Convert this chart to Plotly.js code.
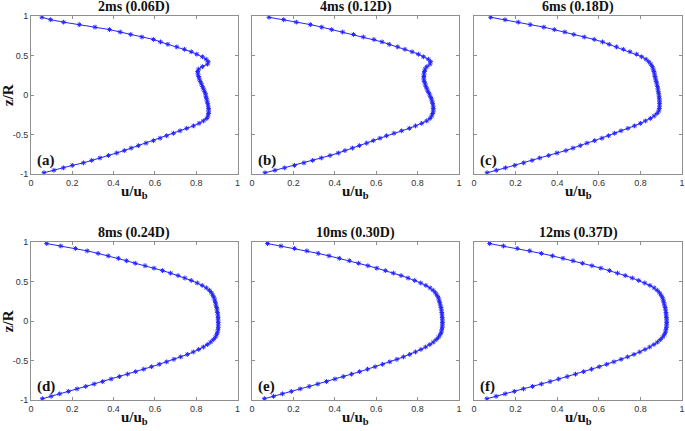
<!DOCTYPE html>
<html>
<head>
<meta charset="utf-8">
<script src="https://cdn.plot.ly/plotly-3.0.1.min.js"></script>
<style>html,body{margin:0;padding:0;background:#fff;}#chart{width:685px;height:431px;}</style>
</head>
<body>
<div id="chart"></div>
<script>
// Radial positions z/R (shared by all panels)
const zR = [0.984, 0.953, 0.922, 0.891, 0.859, 0.828, 0.797, 0.766, 0.734, 0.703, 0.672, 0.641, 0.609, 0.578, 0.547, 0.516,
  0.484, 0.453, 0.422, 0.391, 0.359, 0.328, 0.297, 0.266, 0.234, 0.203, 0.172, 0.141, 0.109, 0.078, 0.047, 0.016,
  -0.016, -0.047, -0.078, -0.109, -0.141, -0.172, -0.203, -0.234, -0.266, -0.297, -0.328, -0.359, -0.391, -0.422, -0.453, -0.484,
  -0.516, -0.547, -0.578, -0.609, -0.641, -0.672, -0.703, -0.734, -0.766, -0.797, -0.828, -0.859, -0.891, -0.922, -0.953, -0.984];

// u/u_b profiles
const u2ms = [0.053, 0.095, 0.158, 0.234, 0.310, 0.380, 0.432, 0.483, 0.537, 0.593, 0.627, 0.663, 0.706, 0.743, 0.776, 0.803,
  0.830, 0.848, 0.858, 0.855, 0.830, 0.812, 0.807, 0.808, 0.812, 0.815, 0.820, 0.825, 0.830, 0.835, 0.840, 0.845,
  0.847, 0.850, 0.853, 0.856, 0.858, 0.860, 0.860, 0.860, 0.857, 0.851, 0.835, 0.814, 0.787, 0.754, 0.722, 0.690,
  0.657, 0.625, 0.593, 0.557, 0.520, 0.485, 0.452, 0.415, 0.375, 0.334, 0.294, 0.254, 0.200, 0.157, 0.111, 0.063];
const u4ms = [0.082, 0.153, 0.214, 0.282, 0.337, 0.385, 0.438, 0.490, 0.538, 0.589, 0.628, 0.663, 0.704, 0.739, 0.773, 0.804,
  0.828, 0.852, 0.863, 0.860, 0.845, 0.836, 0.833, 0.831, 0.830, 0.830, 0.832, 0.836, 0.840, 0.845, 0.850, 0.856,
  0.861, 0.866, 0.870, 0.873, 0.875, 0.876, 0.876, 0.873, 0.868, 0.860, 0.844, 0.820, 0.790, 0.760, 0.723, 0.686,
  0.650, 0.618, 0.586, 0.554, 0.519, 0.485, 0.449, 0.417, 0.377, 0.335, 0.293, 0.251, 0.205, 0.158, 0.111, 0.063];
const u6ms = [0.080, 0.149, 0.213, 0.270, 0.336, 0.386, 0.437, 0.480, 0.530, 0.578, 0.618, 0.650, 0.685, 0.718, 0.750, 0.782,
  0.806, 0.827, 0.840, 0.850, 0.857, 0.862, 0.865, 0.868, 0.870, 0.873, 0.876, 0.879, 0.882, 0.884, 0.886, 0.888,
  0.890, 0.891, 0.892, 0.892, 0.892, 0.891, 0.888, 0.880, 0.866, 0.848, 0.824, 0.800, 0.772, 0.740, 0.707, 0.676,
  0.647, 0.615, 0.580, 0.543, 0.511, 0.476, 0.442, 0.399, 0.359, 0.316, 0.279, 0.239, 0.196, 0.151, 0.107, 0.063];
const u8ms = [0.076, 0.144, 0.215, 0.272, 0.325, 0.374, 0.423, 0.462, 0.505, 0.552, 0.596, 0.637, 0.676, 0.712, 0.745, 0.776,
  0.805, 0.829, 0.849, 0.864, 0.874, 0.881, 0.886, 0.890, 0.893, 0.896, 0.899, 0.901, 0.903, 0.905, 0.906, 0.906,
  0.907, 0.907, 0.907, 0.906, 0.903, 0.899, 0.893, 0.883, 0.870, 0.854, 0.835, 0.812, 0.786, 0.757, 0.725, 0.692,
  0.657, 0.621, 0.584, 0.546, 0.507, 0.468, 0.428, 0.388, 0.347, 0.306, 0.265, 0.223, 0.181, 0.139, 0.097, 0.055];
const u10ms = [0.075, 0.140, 0.205, 0.265, 0.320, 0.372, 0.422, 0.470, 0.515, 0.560, 0.603, 0.644, 0.683, 0.720, 0.754, 0.786,
  0.815, 0.840, 0.860, 0.875, 0.886, 0.894, 0.900, 0.904, 0.907, 0.910, 0.913, 0.915, 0.917, 0.918, 0.919, 0.920,
  0.920, 0.920, 0.919, 0.917, 0.914, 0.909, 0.901, 0.890, 0.876, 0.859, 0.839, 0.816, 0.790, 0.762, 0.732, 0.700,
  0.666, 0.631, 0.595, 0.558, 0.520, 0.481, 0.441, 0.401, 0.360, 0.318, 0.276, 0.233, 0.190, 0.147, 0.104, 0.060];
const u12ms = [0.075, 0.142, 0.208, 0.268, 0.324, 0.377, 0.428, 0.476, 0.522, 0.567, 0.610, 0.651, 0.690, 0.727, 0.761, 0.792,
  0.821, 0.846, 0.866, 0.881, 0.892, 0.900, 0.906, 0.910, 0.913, 0.916, 0.919, 0.921, 0.923, 0.924, 0.925, 0.926,
  0.926, 0.926, 0.925, 0.923, 0.920, 0.915, 0.907, 0.896, 0.882, 0.865, 0.845, 0.822, 0.797, 0.769, 0.739, 0.707,
  0.673, 0.638, 0.602, 0.565, 0.527, 0.488, 0.448, 0.407, 0.366, 0.324, 0.281, 0.238, 0.194, 0.150, 0.106, 0.062];

const panelTitles = ["2ms (0.06D)", "4ms (0.12D)", "6ms (0.18D)", "8ms (0.24D)", "10ms (0.30D)", "12ms (0.37D)"];
const panelLabels = ["(a)", "(b)", "(c)", "(d)", "(e)", "(f)"];
const xTicks = [0, 0.2, 0.4, 0.6, 0.8, 1];
const xTickText = ["0", "0.2", "0.4", "0.6", "0.8", "1"];
const yTicks = [-1, -0.5, 0, 0.5, 1];
const yTickText = ["-1", "-0.5", "0", "0.5", "1"];
const xTitle = "u/u<sub>b</sub>";
const yTitle = "z/R";

const profiles = [u2ms, u4ms, u6ms, u8ms, u10ms, u12ms];

const W = 685, H = 431;
const colPx = [[31, 237.5], [252, 459], [474, 682]];
const rowPx = [[16, 174], [242.3, 400]];

const serif = "'Liberation Serif', 'Times New Roman', Times, serif";
const sans = "'Liberation Sans', Arial, Helvetica, sans-serif";
const axisCol = "#8f8f8f";
const blue = "#2424ff";
const traces = [];
const layout = {
  width: W, height: H,
  margin: {l: 0, r: 0, t: 0, b: 0},
  paper_bgcolor: "#fff", plot_bgcolor: "#fff",
  showlegend: false,
  font: {family: sans},
  annotations: []
};

profiles.forEach((u, i) => {
  const r = Math.floor(i / 3), c = i % 3;
  const n = i + 1;
  const xa = n === 1 ? "xaxis" : "xaxis" + n;
  const ya = n === 1 ? "yaxis" : "yaxis" + n;
  const xr = n === 1 ? "x" : "x" + n;
  const yr = n === 1 ? "y" : "y" + n;
  traces.push({
    type: "scatter", mode: "lines+markers",
    x: u, y: zR, xaxis: xr, yaxis: yr,
    line: {color: blue, width: 1},
    marker: {symbol: "asterisk-open", size: 4, color: blue, line: {color: blue, width: 1}},
    cliponaxis: false
  });
  const x0 = colPx[c][0] / W, x1 = colPx[c][1] / W;
  const y0 = 1 - rowPx[r][1] / H, y1 = 1 - rowPx[r][0] / H;
  layout[xa] = {
    domain: [x0, x1], range: [0, 1], anchor: yr,
    tickvals: xTicks, ticktext: xTickText,
    ticks: "inside", ticklen: 3, tickcolor: axisCol,
    showline: true, linecolor: axisCol, linewidth: 1, mirror: "ticks",
    showgrid: false, zeroline: false,
    tickfont: {family: sans, size: 9, color: "#333"}
  };
  layout[ya] = {
    domain: [y0, y1], range: [-1, 1], anchor: xr,
    tickvals: yTicks, ticktext: yTickText,
    ticks: "inside", ticklen: 3, tickcolor: axisCol,
    showline: true, linecolor: axisCol, linewidth: 1, mirror: "ticks",
    showgrid: false, zeroline: false,
    showticklabels: c === 0,
    tickfont: {family: sans, size: 9, color: "#333"}
  };
  const cx = (colPx[c][0] + colPx[c][1]) / 2 / W;
  layout.annotations.push({
    xref: "paper", yref: "paper", x: cx, y: 1 - (rowPx[r][0] - 9) / H,
    text: "<b>" + panelTitles[i] + "</b>", showarrow: false,
    xanchor: "center", yanchor: "middle",
    font: {family: serif, size: 14, color: "#111"}
  });
  layout.annotations.push({
    xref: "paper", yref: "paper", x: cx, y: 1 - (rowPx[r][1] + 18) / H,
    text: "<b>" + xTitle + "</b>", showarrow: false,
    xanchor: "center", yanchor: "middle",
    font: {family: serif, size: 15, color: "#111"}
  });
  layout.annotations.push({
    xref: "paper", yref: "paper", x: (colPx[c][0] + 4) / W, y: 1 - (rowPx[r][1] - 14) / H,
    text: "<b>" + panelLabels[i] + "</b>", showarrow: false,
    xanchor: "left", yanchor: "middle",
    font: {family: serif, size: 15, color: "#111"}
  });
  if (c === 0) {
    layout.annotations.push({
      xref: "paper", yref: "paper", x: 8 / W, y: 1 - ((rowPx[r][0] + rowPx[r][1]) / 2) / H,
      text: "<b>" + yTitle + "</b>", showarrow: false, textangle: -90,
      xanchor: "center", yanchor: "middle",
      font: {family: serif, size: 15, color: "#111"}
    });
  }
});

Plotly.newPlot("chart", traces, layout, {displayModeBar: false, staticPlot: true});
</script>
</body>
</html>
